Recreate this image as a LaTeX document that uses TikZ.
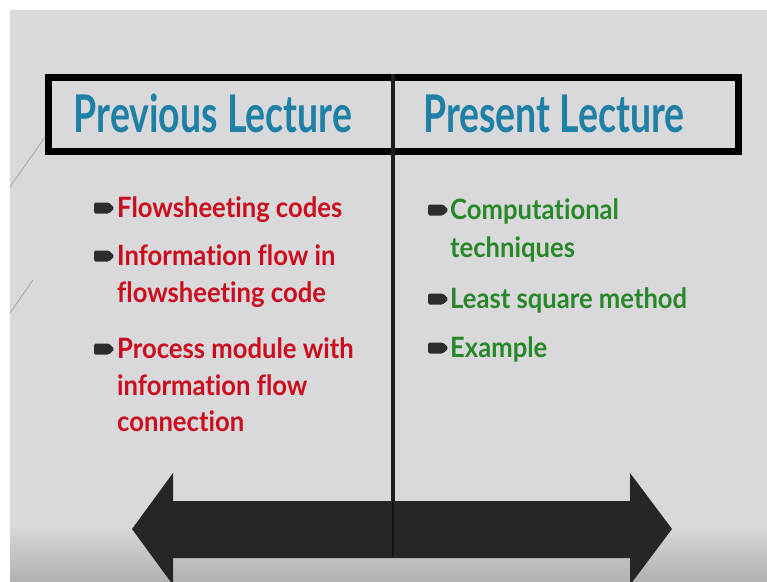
\documentclass[tikz,border=0pt]{standalone}
\usepackage{fontspec}
\newfontfamily\headfont[FakeStretch=0.72,Ligatures=NoCommon]{Lato}
\newfontfamily\bodyfont[FakeStretch=0.915,Ligatures=NoCommon]{Lato}
\definecolor{bgc}{RGB}{217,217,219}
\definecolor{bgdark}{RGB}{178,178,180}
\definecolor{headc}{RGB}{31,128,166}
\definecolor{redc}{RGB}{204,12,28}
\definecolor{greenc}{RGB}{40,135,40}
\definecolor{arrowc}{RGB}{38,38,38}
\definecolor{divc}{RGB}{30,30,30}
\definecolor{bulc}{RGB}{45,45,45}
\tikzset{
  headtext/.style={anchor=base, inner sep=0pt, text=headc, font=\headfont\bfseries\fontsize{52}{60}\selectfont},
  redtext/.style={anchor=base west, inner sep=0pt, text=redc, font=\bodyfont\bfseries\fontsize{28}{37}\selectfont},
  greentext/.style={anchor=base west, inner sep=0pt, text=greenc, font=\bodyfont\bfseries\fontsize{28}{37}\selectfont},
  bulletmark/.pic={\fill[bulc, rounded corners=1.5pt] (-10,-5.5) -- (5,-5.5) -- (10.5,0) -- (5,5.5) -- (-10,5.5) -- cycle;}
}
\begin{document}
\begin{tikzpicture}[x=1pt,y=-1pt]
\useasboundingbox (0,0) rectangle (767,581);
\clip (0,0) rectangle (767,581);
\fill[white] (0,0) rectangle (767,581);
\fill[bgc] (10,10) rectangle (767,581);
\shade[top color=bgc, bottom color=bgdark] (10,525) rectangle (767,581);
% faint diagonal lines
\draw[gray!70, line width=0.8pt] (10,187) -- (45,137);
\draw[gray!70, line width=0.8pt] (10,313) -- (33,280);
% header box
\node[draw=black, line width=7pt, minimum width=690pt, minimum height=74pt, inner sep=0pt] (hdr) at (393,114) {};
% big double arrow
\fill[arrowc] (132,529) -- (173,473) -- (173,501) -- (630,501) -- (630,473) -- (672,529)
  -- (630,585) -- (630,558) -- (173,558) -- (173,585) -- cycle;
% divider
\coordinate (divmid) at (393,501);
\coordinate (divbot) at (393,557);
\draw[divc, line width=4pt] (hdr.north) -- (divmid);
\draw[black!92, line width=1.5pt] (divmid) -- (divbot);
% headers
\node[headtext] (prev) at (213,132) {Previous Lecture};
\node[headtext] (pres) at (554,132) {Present Lecture};
% left column
\pic at (104,208) {bulletmark};
\node[redtext] (l1) at (117,217) {Flowsheeting codes};
\pic at (104,256) {bulletmark};
\node[redtext] (l2a) at (117,265) {Information flow in};
\node[redtext] (l2b) at (117,302) {flowsheeting code};
\pic at (104,349) {bulletmark};
\node[redtext] (l3a) at (117,358) {Process module with};
\node[redtext] (l3b) at (117,395) {information flow};
\node[redtext] (l3c) at (117,431) {connection};
% right column
\pic at (438,210) {bulletmark};
\node[greentext] (r1a) at (450,219) {Computational};
\node[greentext] (r1b) at (450,257) {techniques};
\pic at (438,299) {bulletmark};
\node[greentext] (r2) at (450,308) {Least square method};
\pic at (438,348) {bulletmark};
\node[greentext] (r3) at (450,357) {Example};
\end{tikzpicture}
\end{document}
